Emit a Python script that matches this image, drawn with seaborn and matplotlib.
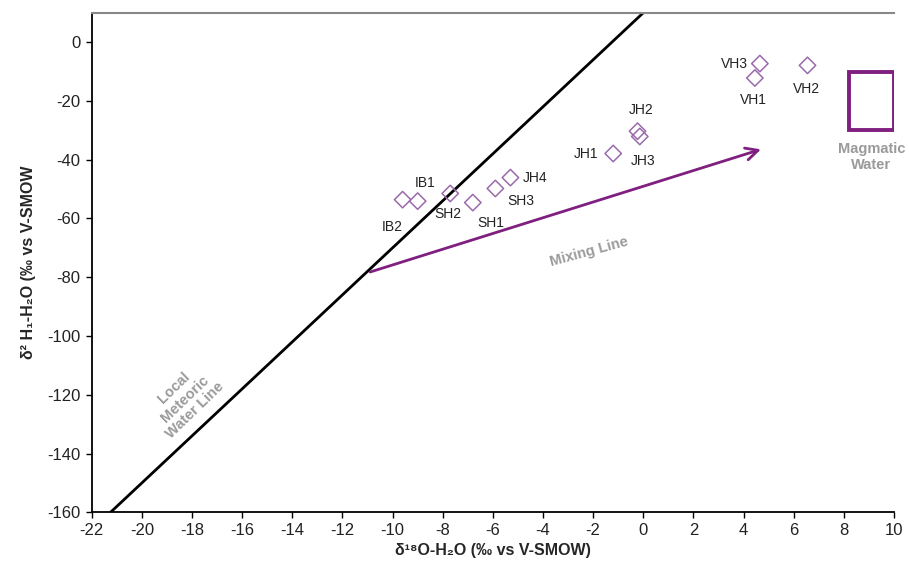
import numpy as np
import pandas as pd
import matplotlib
matplotlib.use("Agg")
import matplotlib.pyplot as plt
import matplotlib.patches as mpatches
import seaborn as sns

# sample points (d18O, d2H)
labels = ["IB2", "IB1", "SH2", "SH1", "SH3", "JH4", "JH1", "JH2", "JH3", "VH3", "VH1", "VH2"]
d18o = [-9.6, -9.0, -7.7, -6.8, -5.9, -5.3, -1.2, -0.23, -0.14, 4.65, 4.45, 6.55]
d2h = [-53.6, -54.1, -51.5, -54.6, -49.8, -46.1, -37.9, -30.3, -32.1, -7.3, -12.2, -7.9]

# label anchor points
label_x = [-10.0, -8.7, -7.8, -6.1, -4.9, -4.8, -2.3, -0.07, 0.0, 3.65, 4.4, 6.5]
label_y = [-63.0, -48.0, -58.5, -61.5, -54.0, -46.3, -38.0, -23.0, -40.5, -7.3, -19.6, -15.8]
label_ha = ["center"] * 5 + ["left"] + ["center"] * 6

# local meteoric water line
lmwl_x = [-21.25, 0.0]
lmwl_y = [-160, 10]

# mixing line arrow
mix_start = (-11.0, -78.5)
mix_end = (4.8, -36.2)

# magmatic water box
magma_x = (8.2, 10.0)
magma_y = (-30.0, -10.2)

purple = "#7f1f80"
pt_color = "#9a6aab"
grey_txt = "#9a9a9a"

sns.set_theme(style="white")
plt.rcParams["font.family"] = ["Liberation Sans", "DejaVu Sans"]
plt.rcParams["axes.unicode_minus"] = False

fig = plt.figure(figsize=(9.09, 5.80), dpi=100)
ax = fig.add_axes([0.1009, 0.1167, 0.8826, 0.8613])

df_line = pd.DataFrame({"x": lmwl_x, "y": lmwl_y})
sns.lineplot(data=df_line, x="x", y="y", color="black", linewidth=2, ax=ax)

df = pd.DataFrame({"d18O": d18o, "d2H": d2h, "label": labels})
sns.scatterplot(data=df, x="d18O", y="d2H", marker="D", s=70,
                facecolor="none", edgecolor=pt_color, linewidth=1.1, ax=ax, zorder=3)

for lab, lx, ly, ha in zip(labels, label_x, label_y, label_ha):
    ax.text(lx, ly, lab, ha=ha, va="center", fontsize=10, color="#222222")

ax.annotate("", xy=mix_end, xytext=mix_start,
            arrowprops=dict(arrowstyle="->", color=purple, lw=2, mutation_scale=22))

ax.add_patch(mpatches.Rectangle((magma_x[0], magma_y[0]), magma_x[1] - magma_x[0],
                                magma_y[1] - magma_y[0], fill=False,
                                edgecolor=purple, linewidth=2.8, zorder=3))

ax.text(9.1, -39, "Magmatic\nWater", ha="center", va="center", fontsize=10.5,
        fontweight="bold", color=grey_txt, linespacing=1.15)
ax.text(-2.15, -71.5, "Mixing Line", ha="center", va="center", fontsize=10.5,
        fontweight="bold", color=grey_txt, rotation=15)
ax.text(-18.3, -121.5, "Local\nMeteoric\nWater Line", ha="center", va="center",
        fontsize=10.5, fontweight="bold", color=grey_txt, rotation=44,
        rotation_mode="anchor", linespacing=1.15)

ax.set_xlim(-22, 10)
ax.set_ylim(-160, 10)
ax.set_xticks(np.arange(-22, 11, 2))
ax.set_yticks(np.arange(-160, 1, 20))
ax.tick_params(axis="both", labelsize=12, length=4, width=1, color="black",
               direction="out", bottom=True, left=True, pad=4, labelcolor="#222222")

ax.set_xlabel("δ¹⁸O-H₂O (‰ vs V-SMOW)", fontsize=11.5, fontweight="bold", labelpad=3)
ax.set_ylabel("δ² H₁-H₂O (‰ vs V-SMOW", fontsize=11.5, fontweight="bold", labelpad=8)

for side in ["left", "bottom"]:
    ax.spines[side].set_color("black")
    ax.spines[side].set_linewidth(1.3)
ax.spines["top"].set_color("#888888")
ax.spines["top"].set_linewidth(1.5)
ax.spines["right"].set_visible(False)

fig.savefig("out.png", dpi=100)
